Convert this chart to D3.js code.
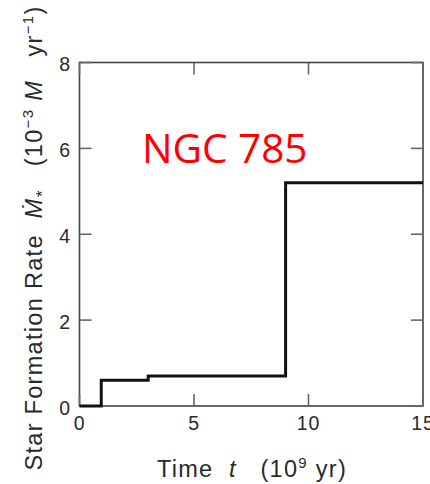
<!DOCTYPE html>
<html>
<head>
<meta charset="utf-8">
<script src="https://cdn.jsdelivr.net/npm/d3@7"></script>
<style>
  html, body { margin: 0; padding: 0; background: #fff; }
  svg { display: block; }
</style>
</head>
<body>
<svg id="chart" width="430" height="484"></svg>
<script>
// Star formation history of NGC 785: piecewise-constant rate
const stepStarts = [0, 0.95, 3, 9];          // time (10^9 yr) where each level begins
const stepRates  = [0, 0.6, 0.7, 5.2];       // rate (10^-3 M yr^-1)
const timeEnd = 15;
const xTicks = [0, 5, 10, 15];
const yTicks = [0, 2, 4, 6, 8];

const svg = d3.select("#chart");
const margin = { left: 79.5, right: 7, top: 62.5, bottom: 78 };
const W = 430, H = 484;

const x = d3.scaleLinear().domain([0, 15]).range([margin.left, W - margin.right]);
const y = d3.scaleLinear().domain([0, 8]).range([H - margin.bottom, margin.top]);

const axisColor = "#444";
const textColor = "#2a2a2a";
const fontFam = "'Liberation Sans', Arial, sans-serif";
const tickLen = 12;

// Frame
svg.append("rect")
  .attr("x", x(0)).attr("y", y(8))
  .attr("width", x(15) - x(0)).attr("height", y(0) - y(8))
  .attr("fill", "none").attr("stroke", axisColor).attr("stroke-width", 1.6);

// Inward ticks on all four sides
const tickG = svg.append("g").attr("stroke", "#666").attr("stroke-width", 1.6);
xTicks.forEach(t => {
  tickG.append("line").attr("x1", x(t)).attr("x2", x(t)).attr("y1", y(0)).attr("y2", y(0) - tickLen);
  tickG.append("line").attr("x1", x(t)).attr("x2", x(t)).attr("y1", y(8)).attr("y2", y(8) + tickLen);
});
yTicks.forEach(v => {
  tickG.append("line").attr("x1", x(0)).attr("x2", x(0) + tickLen).attr("y1", y(v)).attr("y2", y(v));
  tickG.append("line").attr("x1", x(15)).attr("x2", x(15) - tickLen).attr("y1", y(v)).attr("y2", y(v));
});

// Tick labels
svg.append("g").selectAll("text").data(xTicks).join("text")
  .attr("x", d => x(d)).attr("y", 429.5)
  .attr("text-anchor", "middle")
  .attr("font-family", fontFam).attr("font-size", 19.5).attr("fill", textColor)
  .attr("letter-spacing", 0.8)
  .text(d => d);
svg.append("g").selectAll("text").data(yTicks).join("text")
  .attr("x", x(0) - 9.5).attr("y", d => y(d) + 8.5)
  .attr("text-anchor", "end")
  .attr("font-family", fontFam).attr("font-size", 19.5).attr("fill", textColor)
  .text(d => d);

// Step line
const pts = [];
stepStarts.forEach((t, i) => {
  const tEnd = i + 1 < stepStarts.length ? stepStarts[i + 1] : timeEnd;
  pts.push([t, stepRates[i]], [tEnd, stepRates[i]]);
});
svg.append("path")
  .attr("d", d3.line().x(d => x(d[0])).y(d => y(d[1]))(pts))
  .attr("fill", "none").attr("stroke", "#111").attr("stroke-width", 3)
  .attr("stroke-linejoin", "miter");

// Galaxy name
svg.append("text")
  .attr("x", 142).attr("y", 163)
  .attr("font-family", "'Open Sans', 'Noto Sans', sans-serif")
  .attr("font-size", 40.5).attr("fill", "#ff0000")
  .text("NGC 785");

// X axis title
const xt = svg.append("text")
  .attr("x", 252).attr("y", 477)
  .attr("text-anchor", "middle")
  .attr("font-family", fontFam).attr("font-size", 23.5).attr("fill", textColor)
  .attr("letter-spacing", 1.3)
  .attr("xml:space", "preserve");
xt.append("tspan").text("Time  ");
xt.append("tspan").attr("font-style", "italic").text("t");
xt.append("tspan").text("   (10");
xt.append("tspan").attr("font-size", 15).attr("dy", -9).text("9");
xt.append("tspan").attr("dy", 9).text(" yr)");

// Y axis title (rotated)
const yt = svg.append("text")
  .attr("transform", "translate(42,238) rotate(-90)")
  .attr("text-anchor", "middle")
  .attr("font-family", fontFam).attr("font-size", 23.5).attr("fill", textColor)
  .attr("letter-spacing", 1.3)
  .attr("xml:space", "preserve");
yt.append("tspan").text("Star Formation Rate  ");
yt.append("tspan").attr("font-style", "italic").text("\u1E40");
yt.append("tspan").attr("font-size", 17).attr("dy", 6).attr("font-style", "italic").text("*");
yt.append("tspan").attr("dy", -6).text("   (10");
yt.append("tspan").attr("font-size", 15).attr("dy", -9).text("\u22123");
yt.append("tspan").attr("dy", 9).attr("font-style", "italic").text(" M");
yt.append("tspan").text("   yr");
yt.append("tspan").attr("font-size", 15).attr("dy", -9).text("\u22121");
yt.append("tspan").attr("dy", 9).text(")");
</script>
</body>
</html>
